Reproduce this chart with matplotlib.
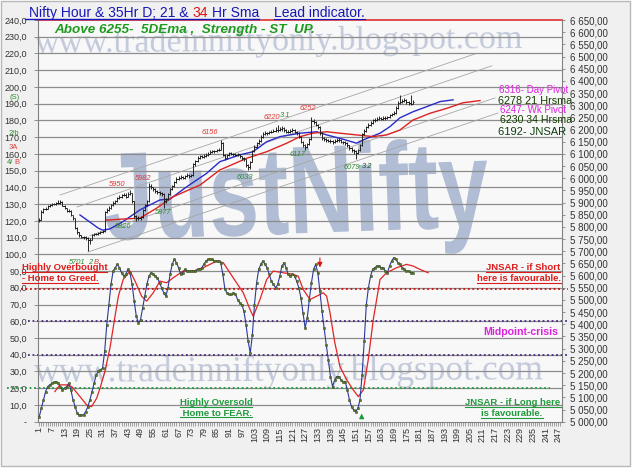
import matplotlib
matplotlib.use("Agg")
import matplotlib.pyplot as plt
import matplotlib.transforms as mtransforms
from matplotlib.lines import Line2D
from matplotlib.patches import PathPatch, Rectangle
from matplotlib.textpath import TextPath
from matplotlib.font_manager import FontProperties
from matplotlib.ticker import FuncFormatter
import numpy as np

plt.rcParams["font.family"] = ["Liberation Sans", "DejaVu Sans"]

W, H = 640, 471

# hourly Nifty bars 1..178 (right axis)
close = [5829, 5862, 5872, 5875, 5885, 5890, 5893, 5895, 5898, 5897,
         5903, 5888, 5876, 5864, 5866, 5848, 5835, 5795, 5778, 5765,
         5760, 5758, 5755, 5745, 5748, 5766, 5770, 5772, 5775, 5780,
         5782, 5862, 5870, 5878, 5890, 5900, 5905, 5918, 5925, 5930,
         5933, 5925, 5935, 5938, 5905, 5845, 5838, 5835, 5840, 5870,
         5890, 5905, 5970, 5962, 5955, 5948, 5942, 5940, 5935, 5905,
         5915, 5935, 5955, 5968, 5985, 5998, 6002, 6006, 6000, 6010,
         6013, 6008, 6012, 6058, 6070, 6085, 6090, 6088, 6092, 6096,
         6100, 6108, 6112, 6110, 6116, 6118, 6145, 6095, 6082, 6095,
         6103, 6100, 6098, 6096, 6098, 6090, 6082, 6078, 6055, 6045,
         6068, 6110, 6130, 6145, 6155, 6170, 6182, 6186, 6185, 6188,
         6192, 6195, 6198, 6200, 6202, 6205, 6198, 6192, 6190, 6195,
         6198, 6192, 6185, 6170, 6150, 6138, 6130, 6140, 6160, 6235,
         6232, 6220, 6212, 6185, 6164, 6160, 6157, 6155, 6152, 6150,
         6155, 6158, 6157, 6150, 6147, 6144, 6135, 6125, 6116, 6110,
         6103, 6115, 6137, 6180, 6195, 6210, 6219, 6228, 6238, 6240,
         6243, 6246, 6244, 6247, 6246, 6250, 6258, 6264, 6268, 6290,
         6310, 6314, 6318, 6321, 6312, 6308, 6306, 6314]
high = [5835, 5868, 5878, 5880, 5890, 5894, 5898, 5900, 5904, 5912,
        5909, 5905, 5891, 5878, 5872, 5868, 5850, 5836, 5798, 5780,
        5768, 5764, 5762, 5758, 5755, 5770, 5776, 5777, 5780, 5785,
        5787, 5866, 5876, 5884, 5895, 5906, 5912, 5922, 5932, 5936,
        5940, 5938, 5942, 5950, 5940, 5906, 5850, 5844, 5846, 5875,
        5896, 5912, 5982, 5975, 5966, 5958, 5952, 5948, 5944, 5938,
        5920, 5940, 5960, 5974, 5990, 6004, 6008, 6012, 6010, 6015,
        6020, 6016, 6018, 6064, 6076, 6090, 6096, 6095, 6098, 6102,
        6106, 6114, 6118, 6117, 6122, 6124, 6156, 6148, 6098, 6100,
        6108, 6108, 6105, 6103, 6104, 6100, 6093, 6086, 6080, 6058,
        6072, 6115, 6136, 6150, 6162, 6176, 6188, 6194, 6192, 6196,
        6200, 6204, 6210, 6220, 6212, 6214, 6210, 6202, 6198, 6202,
        6206, 6202, 6196, 6188, 6172, 6154, 6142, 6146, 6166, 6252,
        6242, 6236, 6224, 6214, 6188, 6170, 6166, 6162, 6160, 6158,
        6162, 6166, 6165, 6160, 6155, 6152, 6148, 6138, 6128, 6120,
        6114, 6120, 6142, 6186, 6202, 6216, 6226, 6234, 6244, 6248,
        6250, 6254, 6252, 6255, 6254, 6257, 6264, 6270, 6275, 6296,
        6318, 6340, 6326, 6328, 6324, 6316, 6342, 6320]
low = [5820, 5829, 5858, 5868, 5872, 5882, 5886, 5889, 5891, 5893,
       5894, 5884, 5872, 5860, 5860, 5844, 5830, 5790, 5772, 5760,
       5755, 5752, 5748, 5701, 5728, 5745, 5762, 5766, 5768, 5772,
       5776, 5780, 5858, 5866, 5875, 5886, 5896, 5902, 5914, 5920,
       5926, 5920, 5922, 5930, 5900, 5838, 5826, 5828, 5830, 5836,
       5866, 5886, 5902, 5955, 5948, 5940, 5936, 5932, 5926, 5877,
       5898, 5910, 5930, 5950, 5962, 5980, 5994, 5996, 5995, 5998,
       6004, 6002, 6004, 6008, 6052, 6066, 6080, 6082, 6084, 6088,
       6092, 6098, 6104, 6104, 6108, 6110, 6114, 6090, 6076, 6078,
       6090, 6094, 6092, 6090, 6090, 6085, 6076, 6070, 6048, 6033,
       6040, 6065, 6106, 6126, 6140, 6150, 6166, 6178, 6178, 6180,
       6184, 6188, 6190, 6192, 6194, 6196, 6192, 6186, 6184, 6186,
       6190, 6186, 6178, 6164, 6144, 6130, 6117, 6124, 6136, 6156,
       6224, 6214, 6204, 6178, 6158, 6152, 6150, 6148, 6146, 6142,
       6146, 6150, 6150, 6144, 6140, 6136, 6128, 6118, 6108, 6098,
       6079, 6098, 6110, 6134, 6176, 6190, 6206, 6214, 6224, 6232,
       6236, 6238, 6238, 6240, 6240, 6242, 6246, 6254, 6260, 6264,
       6286, 6304, 6308, 6312, 6306, 6302, 6300, 6304]

# 21 and 34 hour SMA (bar, price)
sma21_bar = [20.3, 25.0, 29.0, 31.0, 34.5, 40.7, 48.7, 58.2, 62.9, 70.9, 80.3,
             86.6, 96.1, 102.3, 108.8, 115.1, 124.6, 132.5, 137.2, 143.5,
             151.4, 154.4, 162.5, 167.2, 171.9, 178.1, 184.6, 191.0, 197.1]
sma21_val = [5849, 5820, 5795, 5787, 5792, 5822, 5870, 5911, 5914, 5965, 6020,
             6068, 6096, 6109, 6150, 6171, 6185, 6191, 6178, 6164,
             6144, 6157, 6185, 6212, 6248, 6273, 6294, 6315, 6322]
sma34_bar = [32.9, 40.0, 48.7, 56.6, 64.4, 77.2, 86.6, 99.3, 108.8, 118.3,
             124.6, 130.7, 137.2, 143.5, 151.4, 159.1, 165.6, 171.9, 178.1,
             186.2, 194.1, 201.8, 209.9]
sma34_val = [5828, 5832, 5836, 5877, 5924, 5972, 6034, 6082, 6109, 6144,
             6171, 6185, 6191, 6185, 6178, 6171, 6178, 6198, 6239,
             6267, 6287, 6310, 6319]

# channel lines: (start bar, start price, end bar, end price)
channel_lines = [(10.8, 5931, 207.6, 6511),
                 (18.9, 5882, 215.5, 6462),
                 (25.0, 5764, 217.0, 6330),
                 (24.1, 5697, 218.4, 6268)]

# oscillator (left axis), one value per bar
osc_k = [3, 8, 13, 18, 21, 22, 23, 23.5, 24, 23,
         21, 19, 20, 21, 23, 19, 13, 9, 5, 4,
         4, 4, 6, 9, 13, 18, 23, 28, 30, 31,
         32, 42, 58, 70, 82, 90, 92, 94, 92, 89,
         87, 88, 91, 89, 82, 72, 63, 59, 61, 68,
         75, 82, 87, 89, 88, 87, 86, 83, 80, 77,
         75, 80, 88, 94, 97, 95, 92, 88, 89, 91,
         90, 90, 90, 90, 90, 91, 91, 92, 94, 96,
         97, 97, 97, 96, 96, 96, 95, 88, 79, 77,
         76, 76, 77, 76, 73, 71, 70, 66, 58, 48,
         41, 52, 70, 83, 91, 94, 96, 94, 92, 88,
         84, 82, 80, 82, 87, 93, 95, 92, 88, 87,
         88, 87, 84, 80, 74, 65, 56, 62, 73, 83,
         91, 94, 89, 78, 66, 56, 46, 37, 27, 21,
         25, 27, 27, 25, 24, 24, 19, 13, 9, 7,
         6, 8, 13, 28, 48, 70, 80, 87, 91, 92,
         93, 93, 92, 92, 90, 89, 93, 96, 98, 97,
         95, 94, 92, 91, 90, 90, 89, 89]
osc_d_bar = [8.4, 10.8, 14.0, 16.4, 20.3, 23.5, 25.8, 28.2, 29.8, 32.1,
             34.5, 36.9, 38.5, 40.8, 44.0, 46.4, 49.5, 51.9, 55.0, 58.2,
             61.4, 64.5, 69.2, 74.0, 78.7, 85.1, 88.2, 92.9, 97.7, 100.9,
             102.4, 105.6, 108.8, 111.9, 116.6, 121.4, 123.7, 126.1, 129.3, 132.5,
             135.6, 137.2, 138.8, 141.1, 143.5, 146.7, 149.8, 152.2, 154.6, 156.9,
             159.3, 162.5, 165.6, 170.4, 175.1, 178.2, 181.4, 185.3]
osc_d_val = [18, 22, 22, 21, 15, 10, 9, 14, 20, 30,
             44, 63, 75, 85, 90, 84, 75, 72, 77, 84,
             83, 86, 90, 90, 92, 96, 95, 86, 77, 67,
             63, 73, 85, 90, 89, 88, 87, 79, 73, 75,
             77, 75, 65, 47, 33, 25, 19, 15, 19, 37,
             61, 85, 89, 92, 94, 93, 91, 89]

# dotted oscillator levels: value, colour, left/right end (pixels)
osc_levels = [(79, "#cc1111", 21, 568), (60, "#4a2a80", 28, 568),
              (40, "#4a2a80", 28, 568), (20, "#1f9a3c", 7, 550)]

fig = plt.figure(figsize=(W / 100, H / 100), dpi=100, facecolor="white")


def fx(x):
    return x / W


def fy(y):
    return 1 - y / H


fig.add_artist(Rectangle((fx(1), fy(466)), 629 / W, 465 / H, transform=fig.transFigure,
                         facecolor="#f0f0f0", edgecolor="#b8b8b8", lw=1, zorder=-10))

ax = fig.add_axes([fx(38.2), fy(421.7), (561.5 - 38.2) / W, (421.7 - 20) / H])
ax.set_facecolor("#f8f8f8")
ax.set_xlim(0.5, 248.5)
ax.set_ylim(0, 240)
ax2 = ax.twinx()
ax2.set_ylim(5000, 6650)
ax2.set_xlim(0.5, 248.5)

# watermarks
for txt, x0, base, size, rot in [("www.tradeinniftyonly.blogspot.com", 35, 53, 24.5, 0.6),
                                 ("www.tradeinniftyonly.blogspot.com", 34, 382, 25.5, 0.3)]:
    ax.text(fx(x0), fy(base), txt, transform=fig.transFigure, family="Liberation Serif",
            fontsize=size, color="#c2c9da", rotation=rot, ha="left", va="baseline",
            zorder=0.2, clip_on=False)
tp = TextPath((0, 0), "JustNifty", size=1,
              prop=FontProperties(family="Liberation Sans", weight="bold"))
tr = mtransforms.Affine2D().scale(90, 125).rotate_deg(2).translate(105, H - 240)
ax.add_patch(PathPatch(tp, transform=tr, facecolor="#b1bdd4", edgecolor="none",
                       zorder=0.3, clip_on=False))

for v in range(10, 240, 10):
    ax.axhline(v, color="#8c8c8c", lw=0.9, zorder=1)

blend = mtransforms.blended_transform_factory(fig.transFigure, ax.transData)
for v, c, x0, x1 in osc_levels:
    ax.plot([fx(x0), fx(x1)], [v, v], transform=blend, color=c, lw=1.3,
            ls=(0, (1, 1.5)), clip_on=False, zorder=2)

bars = np.arange(1, len(close) + 1)
ax.plot(bars, osc_k, color="#2b3a9c", lw=0.8, marker="o", ms=1.8, mfc="#5f7d2c",
        mec="#34451a", mew=0.3, zorder=4)
ax.plot(osc_d_bar, osc_d_val, color="#e02424", lw=0.9, zorder=3)

ax.annotate("", xy=(134, 90.5), xytext=(134, 99.5),
            arrowprops=dict(arrowstyle="-|>", color="#dd1111", lw=0.8, mutation_scale=7))
ax.annotate("", xy=(153.8, 6.5), xytext=(153.8, 0.3),
            arrowprops=dict(arrowstyle="-|>", color="#1a9a3a", lw=0.8, mutation_scale=7))

# price panel
for b0, p0, b1, p1 in channel_lines:
    ax2.plot([b0, b1], [p0, p1], color="#a6a6a6", lw=0.6, zorder=2)
ax2.plot(sma21_bar, sma21_val, color="#2a2acc", lw=1.0, zorder=3)
ax2.plot(sma34_bar, sma34_val, color="#dd2222", lw=1.0, zorder=3)
opens = [close[0]] + close[:-1]
ax2.vlines(bars, low, high, color="#1a1a1a", lw=0.65, zorder=4)
ax2.hlines(opens, bars - 0.7, bars, color="#1a1a1a", lw=0.65, zorder=4)
ax2.hlines(close, bars, bars + 0.7, color="#1a1a1a", lw=0.65, zorder=4)

red, green = "#e03a3a", "#2e8b2e"
price_marks = [("5701", 19.0, 5652, green), ("5950", 37.9, 5976, red),
               ("5982", 50.1, 6001, red), ("5826", 40.7, 5800, green),
               ("5877", 59.6, 5861, green), ("6156", 81.9, 6186, red),
               ("6033", 98.5, 6005, green), ("6220", 111.3, 6248, red),
               ("3.1", 117.5, 6256, green), ("6252", 128.4, 6285, red),
               ("6117", 123.6, 6096, green), ("6079", 149.2, 6046, green),
               ("3.2", 156.3, 6050, "#1d5a1d")]
for s, b, p, c in price_marks:
    ax2.text(b, p, s, fontsize=5.4, style="italic", color=c, ha="center", va="center", zorder=5)
ax2.text(25.3, 5652, "2", fontsize=5.4, style="italic", color=green, ha="center", va="center")
ax2.text(27.8, 5652, "B", fontsize=5.4, style="italic", color=red, ha="center", va="center")

# axes styling
for side in ["left", "bottom", "right"]:
    ax.spines[side].set_color("#808080")
ax.spines["top"].set_color("#e03030")
ax.spines["top"].set_linewidth(1.2)
for side in ax2.spines:
    ax2.spines[side].set_visible(False)

ax.set_yticks(range(0, 241, 10))
ax.yaxis.set_major_formatter(FuncFormatter(
    lambda v, p: "-" if v == 0 else f"{v:.1f}".replace(".", ",")))
ax.tick_params(axis="y", length=3, width=0.6, color="#808080", pad=5,
               labelsize=6.5, labelcolor="#333333")
ax2.set_yticks(range(5000, 6651, 50))
ax2.yaxis.set_major_formatter(FuncFormatter(
    lambda v, p: f"{int(v) // 1000} {int(v) % 1000:03d},00"))
ax2.tick_params(axis="y", length=2.5, width=0.6, color="#808080", pad=3.5,
                labelsize=7, labelcolor="#333333")
ax.set_xticks(range(1, 248, 6))
ax.set_xticks(range(1, 249), minor=True)
ax.tick_params(axis="x", which="both", length=3, width=0.5, color="#808080")
ax.tick_params(axis="x", labelsize=6.5, labelrotation=90, pad=1, labelcolor="#333333")

# texts
underlined = []


def label(x, y, s, color, size, weight="normal", style="normal", ha="left", ul=False):
    t = fig.text(fx(x), fy(y), s, color=color, fontsize=size, fontweight=weight,
                 fontstyle=style, ha=ha, va="baseline")
    if ul:
        underlined.append((t, color))
    return t


renderer = fig.canvas.get_renderer()
blue = "#1717b8"
tfull = fig.text(0, 0, "Nifty Hour & 35Hr D; 21 & 34 Hr Sma", fontsize=10)
ttail = fig.text(0, 0, "34 Hr Sma", fontsize=10)
wfull = tfull.get_window_extent(renderer).width
wtail = ttail.get_window_extent(renderer).width
tfull.remove()
ttail.remove()
x0 = 29.3
label(x0, 17.3, "Nifty Hour & 35Hr D; 21 &", blue, 10)
label(x0 + wfull - wtail, 17.3, "34", "#e01010", 10)
label(x0 + wfull, 17.3, "Hr Sma", blue, 10, ha="right")
fig.add_artist(Line2D([25, x0 + wfull], [H - 19.3] * 2, color=blue, lw=1.0,
                      transform=mtransforms.IdentityTransform()))
label(274, 17.3, "Lead indicator.", blue, 10, ul=True)
label(54.5, 33.3, "Above 6255-  5DEma ,  Strength - ST  UP.", "#1e9a1e", 9.7,
      weight="bold", style="italic")

for s, x, y, c, size in [("6316- Day Pivot", 499, 93, "#dd22dd", 7.0),
                         ("6278 21 Hrsma", 498, 103.5, "#143d00", 7.8),
                         ("6247- Wk Pivot", 500, 113, "#dd22dd", 7.0),
                         ("6230 34 Hrsma", 499.5, 123, "#143d00", 7.6),
                         ("6192- JNSAR", 498, 135, "#0f3f0f", 8.0)]:
    label(x, y, s, c, size)

for s, x, y, c in [("(S)", 10, 99, green), ("2/b", 9, 135, green), ("3A", 9, 149, red),
                   ("4/", 7, 164, green), ("B", 14, 164, red)]:
    label(x, y, s, c, 5.5)

label(21.7, 270.5, "Highly Overbought", "#dd1c1c", 6.8, weight="bold", ul=True)
label(21.7, 281, "- Home to Greed.", "#dd1c1c", 6.8, weight="bold", ul=True)
label(560, 270, "JNSAR - if Short", "#dd1c1c", 6.8, weight="bold", ha="right", ul=True)
label(561, 280.7, "here is favourable.", "#dd1c1c", 6.8, weight="bold", ha="right", ul=True)
label(558, 335, "Midpoint-crisis", "#dd22dd", 7.6, weight="bold", ha="right")
label(216, 405, "Highly Oversold", "#1f9a3c", 6.8, weight="bold", ha="center", ul=True)
label(216, 415.5, " Home to FEAR.", "#1f9a3c", 6.8, weight="bold", ha="center", ul=True)
label(513, 405, "JNSAR - if Long here", "#1f9a3c", 6.8, weight="bold", ha="center", ul=True)
label(512, 415.7, "is favourable.", "#1f9a3c", 6.8, weight="bold", ha="center", ul=True)

for t, c in underlined:
    bb = t.get_window_extent(renderer)
    base = t.get_transform().transform(t.get_position())[1]
    fig.add_artist(Line2D([bb.x0, bb.x1], [base - 1.8] * 2, color=c, lw=0.8,
                          transform=mtransforms.IdentityTransform()))

fig.savefig("out.png", dpi=100, facecolor=fig.get_facecolor())
